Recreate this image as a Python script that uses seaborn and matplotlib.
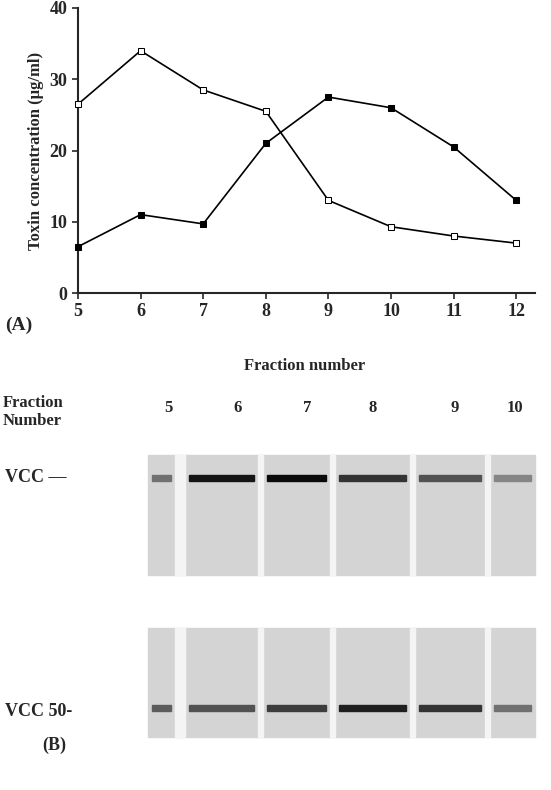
import matplotlib
matplotlib.use("Agg")
import matplotlib.pyplot as plt
import seaborn as sns
import pandas as pd
from matplotlib.patches import Rectangle

fractions = [5, 6, 7, 8, 9, 10, 11, 12]
open_series = [26.5, 34, 28.5, 25.5, 13, 9.3, 8, 7]
filled_series = [6.5, 11, 9.7, 21, 27.5, 26, 20.5, 13]
gel_labels = ["5", "6", "7", "8", "9", "10"]
band_top = [0.45, 0.9, 0.95, 0.75, 0.6, 0.35]
band_bottom = [0.55, 0.6, 0.7, 0.85, 0.75, 0.45]

sns.set_style("ticks")
plt.rcParams['font.family'] = ['Liberation Serif', 'DejaVu Serif']
plt.rcParams['font.weight'] = 'bold'

fig = plt.figure(figsize=(5.51, 7.9), dpi=100)
ax = fig.add_axes([78/551, 1-293/790, (535-78)/551, (293-8)/790])
df = pd.DataFrame({"f": fractions * 2, "v": open_series + filled_series,
                   "s": ["open"] * 8 + ["filled"] * 8})
sns.lineplot(data=df[df.s == "open"], x="f", y="v", ax=ax, color="black", lw=1.2,
             marker="s", markersize=5, markerfacecolor="white", markeredgecolor="black",
             clip_on=False, zorder=5)
sns.lineplot(data=df[df.s == "filled"], x="f", y="v", ax=ax, color="black", lw=1.2,
             marker="s", markersize=5, markerfacecolor="black", markeredgecolor="black",
             clip_on=False, zorder=5)
ax.set_xlim(5, 12.3)
ax.set_ylim(0, 40)
ax.set_xticks(fractions)
ax.set_yticks([0, 10, 20, 30, 40])
ax.tick_params(labelsize=13, direction="out", length=4, width=1.2)
for sp in ["top", "right"]:
    ax.spines[sp].set_visible(False)
for sp in ["left", "bottom"]:
    ax.spines[sp].set_linewidth(1.5)
ax.set_xlabel("")
ax.set_ylabel("Toxin concentration (µg/ml)", fontsize=12, fontweight="bold")
fig.text(5/551, 1-325/790, "(A)", fontsize=14, fontweight="bold", va="center")
fig.text(305/551, 1-366/790, "Fraction number", fontsize=12, fontweight="bold",
         ha="center", va="center")

# Gel panel
g = fig.add_axes([0, 0, 1, 400/790])
g.set_xlim(0, 551)
g.set_ylim(790, 390)
g.axis("off")
edges = [148, 175, 185, 258, 263, 330, 335, 410, 415, 485, 490, 535]
label_x = [168, 238, 307, 373, 455, 515]
for (y0, y1, by, bands) in [(455, 575, 478, band_top), (628, 737, 708, band_bottom)]:
    g.add_patch(Rectangle((148, y0), 535 - 148, y1 - y0, color="#d4d4d4", zorder=1))
    for i in range(1, len(edges) - 1, 2):
        g.add_patch(Rectangle((edges[i], y0), edges[i+1] - edges[i], y1 - y0,
                              color="#f4f4f4", zorder=2))
    lanes = [(edges[0], edges[1])] + [(edges[i], edges[i+1]) for i in range(2, len(edges), 2)]
    for (a, b), inten in zip(lanes, bands):
        gray = 0.8 * (1 - inten)
        g.add_patch(Rectangle((a + 4, by - 3), b - a - 8, 6, color=str(gray), zorder=3))
for x, t in zip(label_x, gel_labels):
    g.text(x, 408, t, fontsize=12, fontweight="bold", ha="center", va="center")
g.text(3, 412, "Fraction\nNumber", fontsize=12, fontweight="bold", va="center", linespacing=1.1)
g.text(5, 478, "VCC —", fontsize=13, fontweight="bold", va="center")
g.text(5, 712, "VCC 50-", fontsize=13, fontweight="bold", va="center")
g.text(42, 745, "(B)", fontsize=13, fontweight="bold", va="center")

fig.savefig("out.png", dpi=100)
